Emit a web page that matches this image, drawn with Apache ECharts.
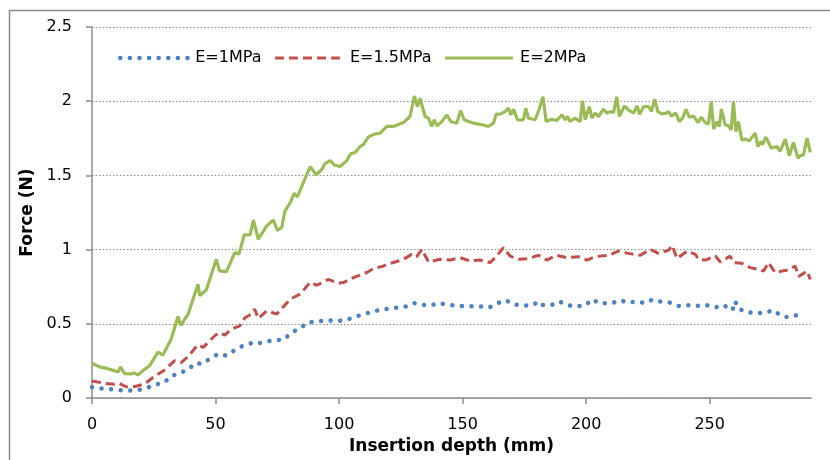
<!DOCTYPE html>
<html>
<head>
<meta charset="utf-8">
<title>Force vs insertion depth</title>
<script src="https://cdn.jsdelivr.net/npm/echarts@6/dist/echarts.min.js"></script>
<style>
  html, body { margin: 0; padding: 0; background: #fff; }
  #chart { width: 830px; height: 460px; }
</style>
</head>
<body>
<div id="chart"></div>
<script>
// series names
const seriesNames = ['E=1MPa', 'E=1.5MPa', 'E=2MPa'];
// y axis ticks 0..2.5 step 0.5, x axis ticks 0..250 step 50

// [insertion depth (mm), force (N)]
const forceE1 = [
  [0, 0.074], [4.9, 0.062], [9.2, 0.058], [12.9, 0.051], [17.3, 0.051], [21.3, 0.062], [25.1, 0.089],
  [29.1, 0.103], [32.1, 0.148], [35.5, 0.17], [38.9, 0.19], [41.8, 0.237], [44.5, 0.23], [48, 0.268],
  [51, 0.297], [54.4, 0.286], [57.8, 0.324], [61.2, 0.353], [65, 0.373], [66.6, 0.366], [70.4, 0.38],
  [74.1, 0.391], [77.5, 0.393], [80.9, 0.443], [84.2, 0.47], [87.3, 0.51], [91.2, 0.517], [95.3, 0.525],
  [99.2, 0.519], [103.1, 0.528], [106.9, 0.55], [110.9, 0.57], [114.9, 0.588], [118.9, 0.6], [123, 0.608],
  [127, 0.617], [130.4, 0.64], [133.9, 0.628], [137.3, 0.626], [140.4, 0.64], [144.3, 0.628], [148.4, 0.621],
  [152.5, 0.619], [156.6, 0.619], [160.7, 0.61], [164.2, 0.64], [167.5, 0.66], [170.2, 0.633], [174, 0.624],
  [178, 0.624], [181, 0.651], [182.3, 0.628], [185.8, 0.626], [189.2, 0.651], [191.9, 0.628], [196, 0.617],
  [199.9, 0.626], [200.7, 0.64], [202.6, 0.666], [205.3, 0.637], [208.4, 0.64], [211.2, 0.644], [213.9, 0.66],
  [216.6, 0.644], [220.4, 0.651], [223.8, 0.64], [226.9, 0.664], [229.7, 0.651], [233.8, 0.644], [237.4, 0.621],
  [241.1, 0.626], [244.7, 0.621], [248.3, 0.628], [252, 0.61], [255.6, 0.626], [259.2, 0.592], [260.3, 0.653],
  [261.4, 0.606], [264.9, 0.577], [268.2, 0.577], [271.1, 0.572], [274.6, 0.586], [276.3, 0.59], [278.3, 0.559],
  [281.7, 0.544], [284.6, 0.557], [287.4, 0.561]
];

const forceE15 = [
  [0, 0.115], [5, 0.1], [9, 0.093], [11.2, 0.098], [13.9, 0.076], [17.3, 0.078], [21.3, 0.095], [25.4, 0.148],
  [29.4, 0.19], [33.5, 0.252], [36.2, 0.24], [38.9, 0.28], [42.9, 0.36], [45, 0.342], [49.7, 0.42], [51.3, 0.44],
  [53.7, 0.425], [56.4, 0.465], [59.8, 0.487], [61.8, 0.54], [64.5, 0.566], [65.8, 0.6], [67.3, 0.537],
  [70.7, 0.588], [74.8, 0.566], [80.2, 0.666], [84.2, 0.7], [88.3, 0.78], [91, 0.76], [95.7, 0.8], [99.7, 0.774],
  [101.7, 0.778], [105.8, 0.812], [111.2, 0.846], [113.9, 0.872], [118, 0.89], [119.3, 0.9], [124, 0.924],
  [126, 0.935], [126.7, 0.924], [129.4, 0.968], [131.4, 0.953], [133.5, 1.002], [136.2, 0.917], [140.9, 0.935],
  [145, 0.93], [149, 0.946], [153, 0.924], [157.1, 0.93], [161.1, 0.913], [163.2, 0.946], [166.5, 1.013],
  [169.2, 0.957], [172.6, 0.935], [176.6, 0.94], [180.7, 0.962], [184.1, 0.93], [188.1, 0.962], [192.2, 0.946],
  [196.9, 0.953], [200.3, 0.93], [203.6, 0.953], [209, 0.962], [213, 0.99], [217.1, 0.975], [221.9, 0.962],
  [225.9, 1.002], [229.3, 0.975], [233.4, 0.997], [234.8, 1.029], [236.8, 0.94], [240.8, 0.99], [244.2, 0.968],
  [245.5, 0.935], [248.3, 0.93], [252.3, 0.957], [254.3, 0.917], [258.3, 0.957], [259.6, 0.913], [263, 0.908],
  [266.4, 0.879], [268.4, 0.872], [271.8, 0.856], [273.8, 0.913], [276.5, 0.846], [279.2, 0.856], [281.9, 0.863],
  [284.6, 0.89], [286, 0.819], [289.4, 0.856], [290.7, 0.8]
];

const forceE2 = [
  [0, 0.235], [3, 0.21], [6, 0.2], [9, 0.185], [10.5, 0.175], [11.5, 0.21], [13.2, 0.165], [15.9, 0.163],
  [17, 0.17], [18.6, 0.156], [20.6, 0.185], [23.4, 0.22], [26.7, 0.31], [28.7, 0.29], [32.1, 0.4], [34.8, 0.55],
  [35.9, 0.49], [38.9, 0.566], [42.9, 0.767], [43.6, 0.69], [46.3, 0.73], [50.3, 0.935], [51.6, 0.857],
  [54.4, 0.852], [57.8, 0.98], [59.5, 0.97], [61.6, 1.1], [64, 1.1], [65.3, 1.2], [67.3, 1.07], [70.7, 1.16],
  [73.4, 1.2], [75, 1.13], [76.8, 1.15], [78.1, 1.26], [80.2, 1.315], [81.8, 1.38], [83.1, 1.355], [85.5, 1.45],
  [88.3, 1.56], [90.7, 1.505], [93, 1.54], [94.3, 1.58], [96.4, 1.6], [98, 1.57], [100.4, 1.56], [103.1, 1.6],
  [104.7, 1.646], [106.5, 1.655], [108.5, 1.695], [109.8, 1.707], [111.9, 1.76], [114.6, 1.78], [116.6, 1.785],
  [119.3, 1.83], [122, 1.83], [126, 1.856], [128.7, 1.897], [130.5, 2.035], [131.7, 1.964], [132.8, 2.02],
  [134.8, 1.897], [136.2, 1.886], [137.5, 1.83], [138.5, 1.875], [139.6, 1.834], [141.6, 1.863], [143.6, 1.908],
  [145.2, 1.863], [147.6, 1.852], [149.2, 1.937], [150.6, 1.875], [154.4, 1.852], [158.4, 1.84], [160.4, 1.83],
  [162.5, 1.852], [163.6, 1.913], [165.2, 1.913], [167.2, 1.93], [168.6, 1.953], [169.5, 1.908], [170.6, 1.946],
  [172.2, 1.875], [174.6, 1.875], [175.6, 1.953], [176.6, 1.886], [179.4, 1.875], [181.1, 1.953], [182.5, 2.03],
  [183.8, 1.863], [186.1, 1.879], [188.1, 1.87], [190.2, 1.908], [191.5, 1.875], [192.4, 1.897], [193.5, 1.863],
  [195.5, 1.886], [197.6, 1.863], [198.5, 2.004], [199.6, 1.875], [201.3, 1.964], [202.3, 1.886], [203.6, 1.92],
  [205, 1.897], [207, 1.946], [208.4, 1.92], [209.7, 1.93], [211.1, 1.924], [212.4, 2.03], [213.4, 1.897],
  [215.5, 1.968], [217.2, 1.94], [219.2, 1.92], [220.6, 1.968], [221.6, 1.913], [223.3, 1.964], [225.3, 1.964],
  [226.4, 1.93], [227.8, 2.013], [229, 1.93], [230.7, 1.915], [232.3, 1.92], [233.4, 1.93], [234.5, 1.9],
  [236.3, 1.92], [237.7, 1.863], [239, 1.886], [240.4, 1.946], [241.7, 1.893], [243.5, 1.9], [245.3, 1.856],
  [246.6, 1.893], [248.2, 1.856], [249.5, 1.846], [250.6, 1.997], [251.6, 1.812], [252.9, 1.863], [253.9, 1.83],
  [254.7, 1.946], [256.3, 1.841], [257.6, 1.834], [258.7, 1.807], [259.6, 1.997], [260.6, 1.796], [261.6, 1.863],
  [263, 1.74], [264.4, 1.745], [266, 1.733], [268.4, 1.785], [269.5, 1.695], [270.7, 1.729], [271.4, 1.707],
  [272.7, 1.758], [274.9, 1.685], [277.2, 1.695], [278.5, 1.662], [280.6, 1.745], [282.2, 1.633], [283.9, 1.722],
  [284.6, 1.722], [285.7, 1.617], [286.6, 1.633], [288, 1.64], [289.4, 1.752], [290.7, 1.655]
];

const font = 'DejaVu Sans, sans-serif';
const blueLine = { width: 4.5, type: [0.1, 9.5], cap: 'round', color: '#4F81BD' };
const redLine = { width: 3, type: [9, 5], color: '#C0504D' };
const greenLine = { width: 3.2, color: '#9BBB59' };

const myChart = echarts.init(document.getElementById('chart'), null, { renderer: 'canvas' });

let option = {
  animation: false,
  backgroundColor: '#fff',
  color: ['#4F81BD', '#C0504D', '#9BBB59'],
  graphic: [
    {
      type: 'rect',
      shape: { x: 9.5, y: 10.5, width: 900, height: 500 },
      style: { fill: 'none', stroke: '#8c8c8c', lineWidth: 1.5 },
      silent: true,
    },
  ],
  grid: {
    left: 92,
    right: 19,
    top: 27,
    bottom: 61,
  },
  legend: {
    left: 113,
    top: 45,
    itemWidth: 68,
    itemHeight: 12,
    itemGap: 12,
    itemStyle: { opacity: 0 },
    textStyle: { fontFamily: font, fontSize: 16, color: '#000', padding: [0, 0, 0, 2] },
    data: [
      { name: seriesNames[0], lineStyle: blueLine },
      { name: seriesNames[1], lineStyle: redLine },
      { name: seriesNames[2], lineStyle: greenLine },
    ],
  },
  xAxis: {
    type: 'value',
    min: 0,
    max: 291,
    interval: 50,
    name: 'Insertion depth (mm)',
    nameLocation: 'middle',
    nameGap: 39,
    nameTextStyle: { fontFamily: font, fontSize: 17, fontWeight: 'bold', color: '#000' },
    axisLine: { show: true, lineStyle: { color: '#8c8c8c', width: 1.5 } },
    axisTick: { show: true, length: 6, lineStyle: { color: '#8c8c8c', width: 1.5 } },
    axisLabel: { fontFamily: font, fontSize: 16, color: '#000', margin: 19, showMaxLabel: false },
    splitLine: { show: false },
  },
  yAxis: {
    type: 'value',
    min: 0,
    max: 2.5,
    interval: 0.5,
    name: 'Force (N)',
    nameLocation: 'middle',
    nameGap: 54,
    nameRotate: 90,
    nameTextStyle: { fontFamily: font, fontSize: 17, fontWeight: 'bold', color: '#000' },
    axisLine: { show: true, lineStyle: { color: '#8c8c8c', width: 1.5 } },
    axisTick: { show: true, length: 6, lineStyle: { color: '#8c8c8c', width: 1.5 } },
    axisLabel: { fontFamily: font, fontSize: 16, color: '#000', margin: 20 },
    splitLine: { show: true, lineStyle: { color: '#8c8c8c', width: 1.2, type: [1.5, 2] } },
  },
  series: [
    {
      name: seriesNames[0],
      type: 'line',
      data: forceE1,
      symbol: 'none',
      lineStyle: blueLine,
      z: 3,
    },
    {
      name: seriesNames[1],
      type: 'line',
      data: forceE15,
      symbol: 'none',
      lineStyle: redLine,
      z: 3,
    },
    {
      name: seriesNames[2],
      type: 'line',
      data: forceE2,
      symbol: 'none',
      lineStyle: greenLine,
      z: 3,
    },
  ],
};
myChart.setOption(option);
</script>
</body>
</html>
